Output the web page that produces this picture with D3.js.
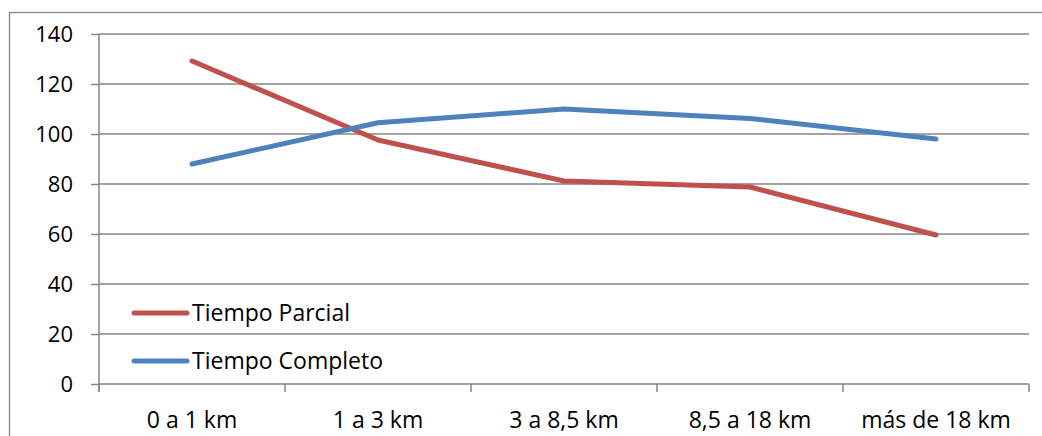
<!DOCTYPE html>
<html>
<head>
<meta charset="utf-8">
<script src="https://cdn.jsdelivr.net/npm/d3@7"></script>
<style>
  html, body { margin: 0; padding: 0; background: #fff; }
  svg { display: block; }
  text { font-family: "Open Sans", "Noto Sans", sans-serif; fill: #000; }
</style>
</head>
<body>
<svg id="chart" width="1042" height="436"></svg>
<script>
// Distance bands and the two series
const categories = ["0 a 1 km", "1 a 3 km", "3 a 8,5 km", "8,5 a 18 km", "más de 18 km"];
const tiempoParcial = [129.2, 97.6, 81.2, 78.8, 59.6];
const tiempoCompleto = [88, 104.5, 110, 106.2, 98];
const yTicks = [0, 20, 40, 60, 80, 100, 120, 140];
const seriesNames = ["Tiempo Parcial", "Tiempo Completo"];
const seriesColors = ["#C0504D", "#4F81BD"];

const svg = d3.select("#chart");
const W = 1042, H = 436;
const plot = { left: 99, right: 1029, top: 34, bottom: 384 };
const gridColor = "#868686";

// Outer chart frame
svg.append("rect")
  .attr("x", 9.5).attr("y", 12.5)
  .attr("width", W + 10).attr("height", H + 10)
  .attr("fill", "none").attr("stroke", gridColor).attr("stroke-width", 1.3);

const x = d3.scaleBand().domain(categories).range([plot.left, plot.right]).padding(0);
const y = d3.scaleLinear().domain([0, 140]).range([plot.bottom, plot.top]);

// Value axis labels and tick stubs
const yAxis = svg.append("g")
  .attr("transform", `translate(${plot.left},0)`)
  .call(d3.axisLeft(y).tickValues(yTicks).tickSize(8).tickPadding(18)
    .tickSizeOuter(0));
yAxis.select(".domain").remove();
yAxis.selectAll(".tick line").attr("stroke", gridColor).attr("stroke-width", 1.5);
yAxis.selectAll(".tick text").attr("font-size", 22).attr("dy", "0.36em")
  .style("font-family", '"Open Sans", "Noto Sans", sans-serif').attr("fill", "#000");

// Horizontal gridlines
svg.append("g").selectAll("line").data(yTicks).join("line")
  .attr("x1", plot.left).attr("x2", plot.right)
  .attr("y1", d => y(d)).attr("y2", d => y(d))
  .attr("stroke", gridColor).attr("stroke-width", 1.5);

// Vertical value-axis line
svg.append("line")
  .attr("x1", plot.left).attr("x2", plot.left)
  .attr("y1", plot.top).attr("y2", plot.bottom + 8)
  .attr("stroke", gridColor).attr("stroke-width", 1.5);

// Category axis: tick marks at band boundaries, labels centred in bands
const bounds = categories.map(c => x(c)).concat([x(categories[categories.length - 1]) + x.bandwidth()]);
svg.append("g").selectAll("line").data(bounds).join("line")
  .attr("x1", d => d).attr("x2", d => d)
  .attr("y1", plot.bottom).attr("y2", plot.bottom + 8)
  .attr("stroke", gridColor).attr("stroke-width", 1.5);

svg.append("g").selectAll("text").data(categories).join("text")
  .attr("x", d => x(d) + x.bandwidth() / 2)
  .attr("y", 428)
  .attr("text-anchor", "middle")
  .attr("font-size", 23)
  .text(d => d);

// Series lines
const line = d3.line()
  .x((d, i) => x(categories[i]) + x.bandwidth() / 2)
  .y(d => y(d));

[tiempoParcial, tiempoCompleto].forEach((vals, i) => {
  svg.append("path")
    .datum(vals)
    .attr("d", line)
    .attr("fill", "none")
    .attr("stroke", seriesColors[i])
    .attr("stroke-width", 5)
    .attr("stroke-linecap", "round")
    .attr("stroke-linejoin", "round");
});

// Legend inside the plot, lower left
const legend = svg.append("g");
const legendY = [313, 361];
seriesNames.forEach((name, i) => {
  legend.append("line")
    .attr("x1", 134).attr("x2", 187)
    .attr("y1", legendY[i]).attr("y2", legendY[i])
    .attr("stroke", seriesColors[i]).attr("stroke-width", 5)
    .attr("stroke-linecap", "round");
  legend.append("text")
    .attr("x", 192).attr("y", legendY[i])
    .attr("dy", "0.36em")
    .attr("font-size", 23)
    .text(name);
});
</script>
</body>
</html>
